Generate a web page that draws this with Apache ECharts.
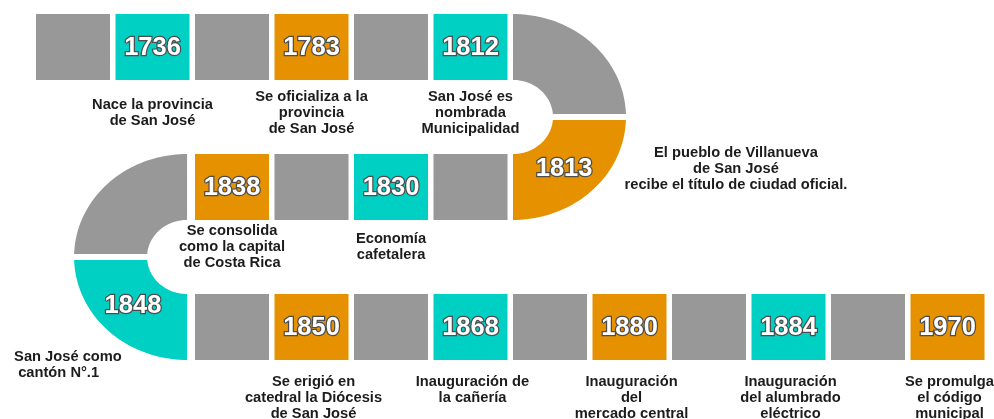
<!DOCTYPE html>
<html>
<head>
<meta charset="utf-8">
<script src="https://cdn.jsdelivr.net/npm/echarts@6/dist/echarts.min.js"></script>
<style>
html,body{margin:0;padding:0;background:#fff;}
#chart{width:994px;height:419px;}
</style>
</head>
<body>
<div id="chart"></div>
<script>
// ---- data (events in the order the path visits them) ----
const years = ['1736','1783','1812','1813','1830','1838','1848','1850','1868','1880','1884','1970'];
const captions = [
  'Nace la provincia\nde San José',
  'Se oficializa a la\nprovincia\nde San José',
  'San José es\nnombrada\nMunicipalidad',
  'El pueblo de Villanueva\nde San José\nrecibe el título de ciudad oficial.',
  'Economía\ncafetalera',
  'Se consolida\ncomo la capital\nde Costa Rica',
  'San José como\n cantón N°.1',
  'Se erigió en\ncatedral la Diócesis\nde San José',
  'Inauguración de\nla cañería',
  'Inauguración\ndel\nmercado central',
  'Inauguración\ndel alumbrado\neléctrico',
  'Se promulga\nel código\nmunicipal'
];
const pairsPerRow = [3, 2, 5];   // gray + event pairs on each straight row

// ---- layout (grid units: 1 column / 1 row) ----
const BOX_W = 0.931, BOX_H = 0.471;
const TURN_OUT_RX = 1.421, TURN_IN_RX = 0.503;
const TURN_OUT_RY = (1 + BOX_H) / 2, TURN_IN_RY = (1 - BOX_H) / 2;
const COLORS = { gray: '#999898', teal: '#00cfc4', orange: '#e69200' };
const FONT = '"Liberation Sans", Arial, sans-serif';

function buildTiles() {
  const tiles = [];
  let ev = 0;
  // row 0, left -> right
  for (let p = 0; p < pairsPerRow[0]; p++) {
    tiles.push({ t: 'box', row: 0, col: 2 * p });
    tiles.push({ t: 'box', row: 0, col: 2 * p + 1, ev: ev++ });
  }
  const rightCol = 2 * pairsPerRow[0];
  tiles.push({ t: 'arc', cx: rightCol, cy: TURN_OUT_RY, a0: -Math.PI / 2, a1: 0 });
  tiles.push({ t: 'arc', cx: rightCol, cy: TURN_OUT_RY, a0: 0, a1: Math.PI / 2, ev: ev++, side: 'right' });
  // row 1, right -> left
  for (let p = 0; p < pairsPerRow[1]; p++) {
    tiles.push({ t: 'box', row: 1, col: rightCol - 1 - 2 * p });
    tiles.push({ t: 'box', row: 1, col: rightCol - 2 - 2 * p, ev: ev++ });
  }
  const leftCol = rightCol - 2 * pairsPerRow[1];
  tiles.push({ t: 'arc', cx: leftCol - 0.1, cy: 1 + TURN_OUT_RY, a0: Math.PI, a1: Math.PI * 1.5 });
  tiles.push({ t: 'arc', cx: leftCol - 0.1, cy: 1 + TURN_OUT_RY, a0: Math.PI / 2, a1: Math.PI, ev: ev++, side: 'left' });
  // row 2, left -> right
  for (let p = 0; p < pairsPerRow[2]; p++) {
    tiles.push({ t: 'box', row: 2, col: leftCol + 2 * p });
    tiles.push({ t: 'box', row: 2, col: leftCol + 2 * p + 1, ev: ev++ });
  }
  return tiles;
}
const tiles = buildTiles();

function yearStyle(text, x, y) {
  return {
    type: 'text',
    style: {
      text: text, x: x, y: y, align: 'center', verticalAlign: 'middle',
      fontFamily: FONT, fontWeight: 'bold', fontSize: 25.5,
      fill: '#ffffff', stroke: '#4d4d4d', lineWidth: 2.5
    },
    z2: 10
  };
}
function captionStyle(text, x, y, align, vAlign) {
  return {
    type: 'text',
    style: {
      text: text, x: x, y: y, align: align, verticalAlign: vAlign,
      fontFamily: FONT, fontWeight: 'bold', fontSize: 14.7, lineHeight: 16,
      fill: '#1c1c1c'
    },
    z2: 10
  };
}

function renderItem(params, api) {
  const d = tiles[params.dataIndex];
  const fill = d.ev === undefined ? COLORS.gray : (d.ev % 2 === 0 ? COLORS.teal : COLORS.orange);
  const children = [];
  if (d.t === 'box') {
    const p0 = api.coord([d.col, d.row]);
    const p1 = api.coord([d.col + BOX_W, d.row + BOX_H]);
    children.push({ type: 'rect', shape: { x: p0[0], y: p0[1], width: p1[0] - p0[0], height: p1[1] - p0[1] }, style: { fill: fill } });
    if (d.ev !== undefined) {
      const cx = (p0[0] + p1[0]) / 2;
      children.push(yearStyle(years[d.ev], cx, (p0[1] + p1[1]) / 2 + 1));
      if (d.row === 0) children.push(captionStyle(captions[d.ev], cx, p1[1] + 33, 'center', 'middle'));
      else if (d.row === 1) children.push(captionStyle(captions[d.ev], cx, p1[1] + 27, 'center', 'middle'));
      else children.push(captionStyle(captions[d.ev], cx + 2, p1[1] + 14, 'center', 'top'));
    }
  } else {
    const c = api.coord([d.cx, d.cy]);
    const out = api.size([TURN_OUT_RX, TURN_OUT_RY]);
    const inn = api.size([TURN_IN_RX, TURN_IN_RY]);
    const upper = Math.sin((d.a0 + d.a1) / 2) < 0;
    const gap = 3;
    const clampY = y => upper ? Math.min(y, c[1] - gap) : Math.max(y, c[1] + gap);
    const pts = [];
    const N = 48;
    for (let k = 0; k <= N; k++) {
      const a = d.a0 + (d.a1 - d.a0) * k / N;
      pts.push([c[0] + out[0] * Math.cos(a), clampY(c[1] + out[1] * Math.sin(a))]);
    }
    for (let k = N; k >= 0; k--) {
      const a = d.a0 + (d.a1 - d.a0) * k / N;
      pts.push([c[0] + inn[0] * Math.cos(a), clampY(c[1] + inn[1] * Math.sin(a))]);
    }
    children.push({ type: 'polygon', shape: { points: pts }, style: { fill: fill } });
    if (d.ev !== undefined) {
      const am = (d.a0 + d.a1) / 2;
      const lx = c[0] + (out[0] + inn[0]) / 2 * Math.cos(am);
      const ly = c[1] + (out[1] + inn[1]) / 2 * Math.sin(am);
      children.push(yearStyle(years[d.ev], lx - (d.side === 'right' ? 3 : 0), ly + (d.side === 'right' ? 3 : 0)));
      if (d.side === 'right') {
        children.push(captionStyle(captions[d.ev], c[0] + out[0] + 110, ly + 2, 'center', 'middle'));
      } else {
        children.push(captionStyle(captions[d.ev], c[0] - out[0] - 60, c[1] + out[1] + 5, 'left', 'middle'));
      }
    }
  }
  return { type: 'group', children: children };
}

const chart = echarts.init(document.getElementById('chart'), null, { renderer: 'canvas' });
chart.setOption({
  animation: false,
  backgroundColor: '#ffffff',
  grid: { left: 36, top: 14, width: 954, height: 399 },
  xAxis: { type: 'value', min: 0, max: 12, show: false },
  yAxis: { type: 'value', min: 0, max: 2.85, inverse: true, show: false },
  series: [{
    type: 'custom',
    coordinateSystem: 'cartesian2d',
    renderItem: renderItem,
    clip: false,
    data: tiles.map(t => t.t === 'box' ? [t.col, t.row] : [t.cx, t.cy])
  }]
});
</script>
</body>
</html>
